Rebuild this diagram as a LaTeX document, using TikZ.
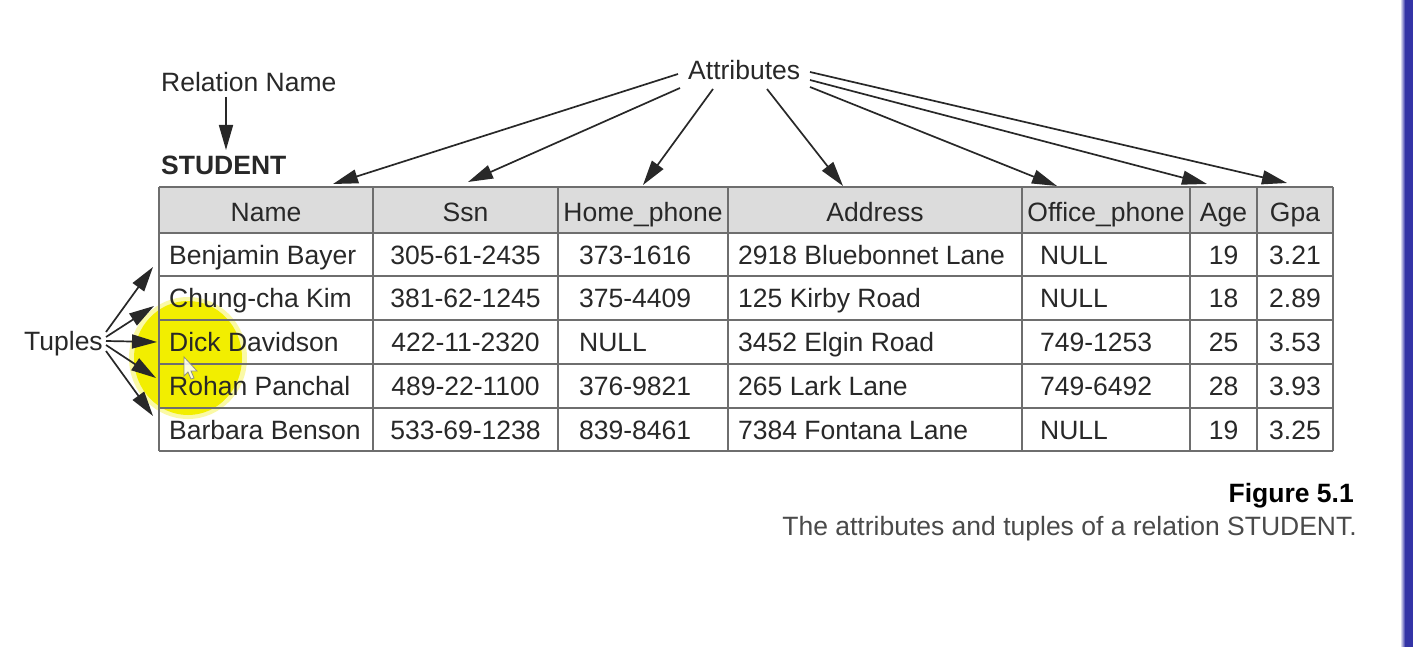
\documentclass[tikz,border=0pt]{standalone}
\usepackage{fontspec}
\setmainfont{Liberation Sans}
\usetikzlibrary{arrows.meta}
\definecolor{txt}{HTML}{282828}
\definecolor{gridc}{HTML}{6E6E6E}
\definecolor{hdr}{HTML}{DCDCDC}
\definecolor{capg}{HTML}{4A4A4A}
\definecolor{hl}{HTML}{F2EE00}
\definecolor{barblue}{HTML}{3434A6}
\begin{document}
\begin{tikzpicture}[x=1pt,y=-1pt,
  lbl/.style={inner sep=0pt, text=txt, font=\fontsize{26.5}{30}\selectfont},
  boldlbl/.style={lbl, font=\fontsize{26.5}{30}\selectfont\bfseries},
  arr/.style={draw=txt, line width=1.7pt, -{Triangle[length=25pt,width=14pt]}},
  gridline/.style={draw=gridc, line width=2.2pt},
]
\fill[white] (0,0) rectangle (1413,647);
\path[use as bounding box] (0,0) rectangle (1413,647);
% blue bar at right edge
\shade[left color=white, right color=barblue] (1400,0) rectangle (1405,647);
\fill[barblue] (1405,0) rectangle (1413,647);
% yellow highlight
\fill[hl, opacity=0.35] (188,358) ellipse [x radius=59, y radius=61];
\fill[hl] (188,358) ellipse [x radius=54, y radius=57];
% header fill
\fill[hdr] (159,187) rectangle (1333,233);
% grid
\foreach \y in {187,233,276,320,364,408,451} \draw[gridline] (159,\y) -- (1333,\y);
\foreach \x in {159,373,558,728,1022,1190,1257,1333} \draw[gridline] (\x,187) -- (\x,451);
% header texts
\foreach \t/\x [count=\i] in {Name/266, Ssn/465.5, Home\_phone/643, Address/875, Office\_phone/1106, Age/1223.5, Gpa/1295}
  \node[lbl, anchor=base] (h\i) at (\x,222) {\t};
% data rows
\foreach \r/\y/\a/\b/\c/\d/\e/\f/\g in {
  1/264/Benjamin Bayer/305-61-2435/373-1616/2918 Bluebonnet Lane/NULL/19/3.21,
  2/307/Chung-cha Kim/381-62-1245/375-4409/125 Kirby Road/NULL/18/2.89,
  3/351/Dick Davidson/422-11-2320/NULL/3452 Elgin Road/749-1253/25/3.53,
  4/395/Rohan Panchal/489-22-1100/376-9821/265 Lark Lane/749-6492/28/3.93,
  5/439/Barbara Benson/533-69-1238/839-8461/7384 Fontana Lane/NULL/19/3.25}
{
  \node[lbl, anchor=base west] (r\r c1) at (169,\y) {\a};
  \node[lbl, anchor=base] (r\r c2) at (465.5,\y) {\b};
  \node[lbl, anchor=base west] (r\r c3) at (579,\y) {\c};
  \node[lbl, anchor=base west] (r\r c4) at (738,\y) {\d};
  \node[lbl, anchor=base west] (r\r c5) at (1040,\y) {\e};
  \node[lbl, anchor=base] (r\r c6) at (1223.5,\y) {\f};
  \node[lbl, anchor=base] (r\r c7) at (1295,\y) {\g};
}
% mouse cursor
\filldraw[fill=white, draw=gray, line width=0.8pt, opacity=0.85] (184,357) -- (184,376) -- (188,372) -- (191,379) -- (194,378) -- (191,371) -- (197,371) -- cycle;
% labels
\node[lbl, anchor=base west] (relname) at (161,92) {Relation Name};
\node[boldlbl, anchor=base west] (student) at (161,175) {STUDENT};
\node[lbl, anchor=base west] (attr) at (688,80) {Attributes};
\node[lbl, anchor=base west] (tuples) at (24,350) {Tuples};
% relation name arrow
\coordinate (rs) at (226,97);
\coordinate (re) at (226,150);
\draw[arr] (rs) -- (re);
% attribute arrows
\foreach \i/\sx/\sy/\ex/\ey in {1/678/74/333/184, 2/680/88/468/182, 3/713/89/643/185, 4/767/89/843/186, 5/810/87/1057/186, 6/810/80/1207/184, 7/810/72/1287/183}
{
  \coordinate (as\i) at (\sx,\sy);
  \coordinate (ae\i) at (\ex,\ey);
  \draw[arr] (as\i) -- (ae\i);
}
% tuple arrows
\foreach \i/\sy/\ex/\ey in {1/332/153/267, 2/337/154/306, 3/341/157/342, 4/345/156/378, 5/351/153/416}
{
  \coordinate (ts\i) at (106,\sy);
  \coordinate (te\i) at (\ex,\ey);
  \draw[arr] (ts\i) -- (te\i);
}
% caption
\node[boldlbl, anchor=base east, text=black] (fig) at (1354,502) {Figure 5.1};
\node[lbl, anchor=base east, text=capg] (cap) at (1357,535) {The attributes and tuples of a relation STUDENT.};
\end{tikzpicture}
\end{document}
